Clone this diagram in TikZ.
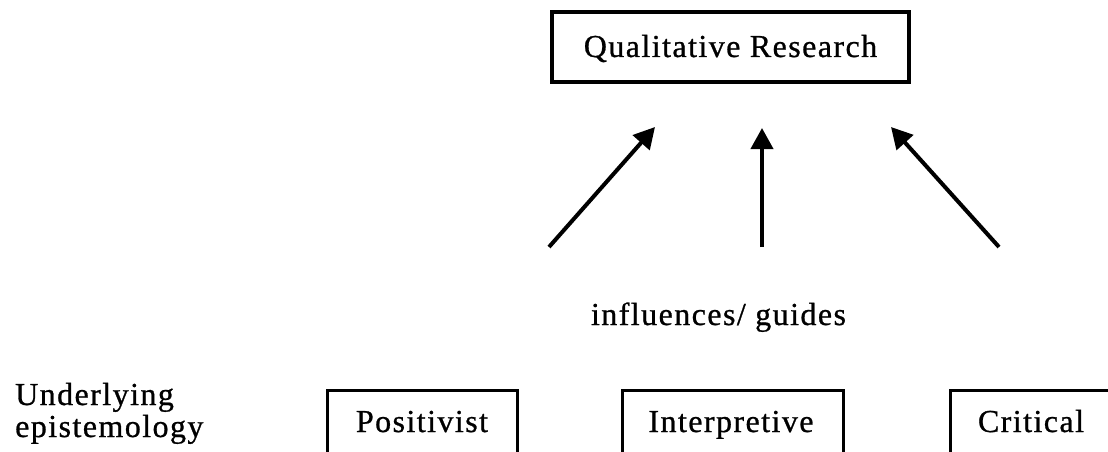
\documentclass[tikz,border=0pt]{standalone}
\usepackage{fontspec}
\setmainfont{Liberation Serif}[LetterSpace=4.5,FakeBold=0.8]
\usetikzlibrary{arrows.meta}
\begin{document}
\begin{tikzpicture}[x=1pt,y=-1pt,
  txt/.style={font=\fontsize{32}{36}\selectfont, inner sep=0pt},
  frame/.style={draw, line width=3pt, inner sep=0pt},
  up/.style={line width=4pt, -{Triangle[length=21pt,width=22pt]}}]
\useasboundingbox (0,0) rectangle (1108,452);
\clip (0,0) rectangle (1108,452);
% top box
\node[frame, line width=3.5pt, minimum width=357pt, minimum height=70pt] (qrbox) at (730.5,47) {};
\node[txt, anchor=base] (qr) at (730.5,57) {Qualitative Research};
% arrows
\coordinate (l0) at (549,247); \coordinate (l1) at (655,127);
\coordinate (m0) at (762,247); \coordinate (m1) at (762,128);
\coordinate (r0) at (999,247); \coordinate (r1) at (891,127);
\draw[up] (l0) -- (l1);
\draw[up] (m0) -- (m1);
\draw[up] (r0) -- (r1);
\node[txt, anchor=base] (inf) at (718.5,325) {influences/ guides};
% left label
\node[txt, anchor=base west] (und) at (15,405) {Underlying};
\node[txt, anchor=base west] (epi) at (15,437) {epistemology};
% bottom boxes
\node[frame, minimum width=190pt, minimum height=100pt, anchor=north] (posbox) at (422,389) {};
\node[txt, anchor=base] (pos) at (422,432) {Positivist};
\node[frame, minimum width=221pt, minimum height=100pt, anchor=north] (intbox) at (732.5,389) {};
\node[txt, anchor=base] (int) at (731,432) {Interpretive};
\node[frame, minimum width=162pt, minimum height=100pt, anchor=north] (critbox) at (1031,389) {};
\node[txt, anchor=base] (crit) at (1031,432) {Critical};
\end{tikzpicture}
\end{document}
